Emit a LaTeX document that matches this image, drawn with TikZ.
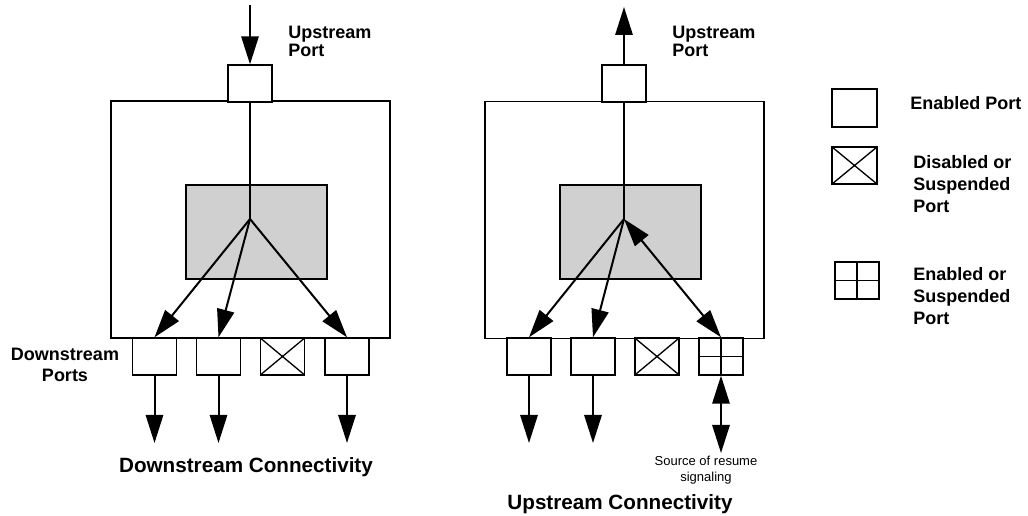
\documentclass[tikz,border=0pt]{standalone}
\usepackage{fontspec}
\setmainfont{Liberation Sans}
\usetikzlibrary{arrows.meta}

\definecolor{coregray}{HTML}{D0D0D0}

\tikzset{
  hub/.style={draw, line width=1.3pt, minimum width=209.25pt, minimum height=177.75pt, inner sep=0pt},
  core/.style={draw, line width=1.3pt, fill=coregray, minimum width=105.75pt, minimum height=70.5pt, inner sep=0pt},
  port/.style={draw, line width=1.3pt, fill=white, minimum width=33pt, minimum height=27.5pt, inner sep=0pt},
  offport/.style={port, path picture={
      \draw[line width=1pt] (path picture bounding box.north west) -- (path picture bounding box.south east)
                            (path picture bounding box.south west) -- (path picture bounding box.north east);}},
  gridport/.style={port, path picture={
      \draw[line width=1.3pt] (path picture bounding box.north) -- (path picture bounding box.south)
                              (path picture bounding box.west) -- (path picture bounding box.east);}},
  flow/.style={-{Triangle[length=21pt, width=13pt]}, line width=1.5pt},
  twoway/.style={{Triangle[length=21pt, width=13pt]}-{Triangle[length=21pt, width=13pt]}, line width=1.5pt},
  lbl/.style={inner sep=0pt, align=left, font=\bfseries\fontsize{13.5pt}{13.5pt}\selectfont},
  legend/.style={inner sep=0pt, align=left, font=\bfseries\fontsize{13.5pt}{16.5pt}\selectfont},
  title/.style={inner sep=0pt, font=\bfseries\fontsize{15.5pt}{18pt}\selectfont}
}

\begin{document}
\begin{tikzpicture}[x=0.75pt, y=-0.75pt]
\useasboundingbox (0,0) rectangle (1028,516);

% Downstream connectivity
\node[hub] (boxL) at (250.5,219.5) {};
\node[core] (coreL) at (256.5,232) {};
\node[port] (upL) at (250,83.5) {};
\coordinate (hubL) at (250,219);
\coordinate (inL) at (250,5);
\node[port] (dL1) at (154.5,356.5) {};
\node[port] (dL2) at (218.5,356.5) {};
\node[offport] (dL3) at (282.5,356.5) {};
\node[port] (dL4) at (347,356.5) {};

\draw[flow] (inL) -- (upL.north);
\draw[line width=1pt] (upL.south) -- (hubL);
\foreach \p/\x in {dL1/154.5, dL2/218.5, dL4/347} {
  \draw[flow] (hubL) -- (\p.north);
  \coordinate (\p out) at (\x,443);
  \draw[flow] (\p.south) -- (\p out);
}

\node[lbl, anchor=north west] (upLlbl) at (288,26) {Upstream\\Port};
\node[inner sep=0pt, align=center, font=\bfseries\fontsize{13.5pt}{15.75pt}\selectfont] (dnlbl) at (65,364.5) {Downstream\\Ports};
\node[title] (titleL) at (246,467.5) {Downstream Connectivity};

% Upstream connectivity
\node[hub] (boxR) at (624.5,220) {};
\node[core] (coreR) at (630.5,232) {};
\node[port] (upR) at (624,83.5) {};
\coordinate (hubR) at (624,219);
\coordinate (outR) at (624,7);
\node[port] (dR1) at (529,356.5) {};
\node[port] (dR2) at (593,356.5) {};
\node[offport] (dR3) at (657,356.5) {};
\node[gridport] (dR4) at (721,356.5) {};

\draw[flow] (upR.north) -- (outR);
\draw[line width=1pt] (upR.south) -- (hubR);
\foreach \p/\x in {dR1/529, dR2/593} {
  \draw[flow] (hubR) -- (\p.north);
  \coordinate (\p out) at (\x,443);
  \draw[flow] (\p.south) -- (\p out);
}
\draw[twoway] (hubR) -- (dR4.north);
\coordinate (resR) at (721,453);
\draw[twoway] (dR4.south) -- (resR);

\node[lbl, anchor=north west] (upRlbl) at (672,26) {Upstream\\Port};
\node[inner sep=0pt, align=center, font=\fontsize{9.75pt}{12pt}\selectfont] (srclbl) at (706,470.5) {Source of resume\\signaling};
\node[title] (titleR) at (620,504.5) {Upstream Connectivity};

% Legend
\node[port, minimum width=34pt, minimum height=28.5pt] (keyOn) at (854.5,108) {};
\node[offport, minimum width=34pt, minimum height=28pt] (keyOff) at (854.5,165.5) {};
\node[gridport] (keySus) at (857,280.5) {};
\node[legend, anchor=west] (keyOnlbl) at (910,103) {Enabled Port};
\node[legend, anchor=north west] (keyOfflbl) at (913,155) {Disabled or\\Suspended\\Port};
\node[legend, anchor=north west] (keySuslbl) at (913,267) {Enabled or\\Suspended\\Port};

\end{tikzpicture}
\end{document}
